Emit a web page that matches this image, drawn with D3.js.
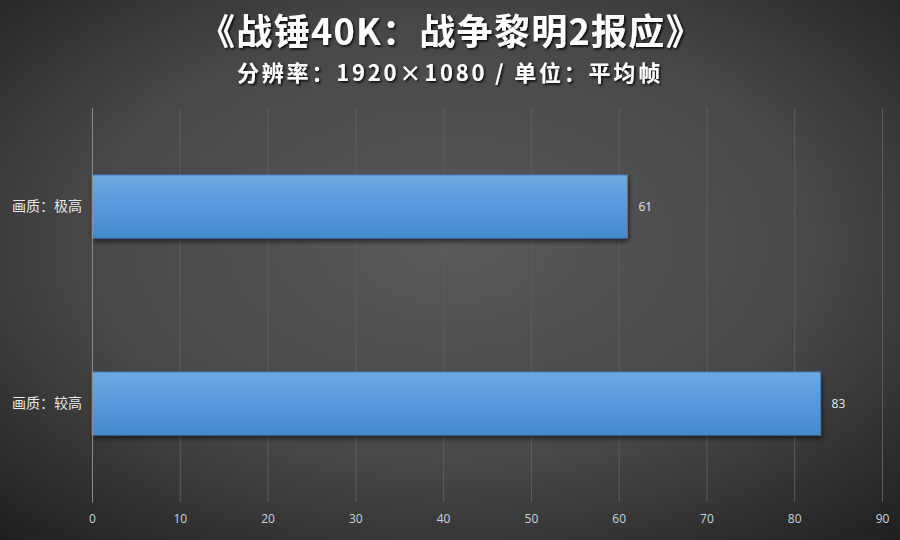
<!DOCTYPE html>
<html>
<head>
<meta charset="utf-8">
<script src="https://cdn.jsdelivr.net/npm/d3@7"></script>
<style>
  html, body { margin: 0; padding: 0; background: #333; }
  svg { display: block; }
</style>
</head>
<body>
<div id="chart"></div>
<script>
// Chart values
var categories = ['画质：极高', '画质：较高'];
var fps = [61, 83];
var xTicks = [0, 10, 20, 30, 40, 50, 60, 70, 80, 90];
var title = '《战锤40K：战争黎明2报应》';
var subtitle = '分辨率：1920×1080 / 单位：平均帧';

var W = 900, H = 540;
var margin = {top: 108, right: 18, bottom: 38, left: 92};
var width = W - margin.left - margin.right,
    height = H - margin.top - margin.bottom;

var svg = d3.select('#chart')
  .append('svg')
  .attr('width', W)
  .attr('height', H);

var defs = svg.append('defs');

// background radial gradient
var bg = defs.append('radialGradient')
  .attr('id', 'bg')
  .attr('cx', '50%').attr('cy', '45%').attr('r', '75%');
bg.append('stop').attr('offset', '0%').attr('stop-color', '#595959');
bg.append('stop').attr('offset', '55%').attr('stop-color', '#474747');
bg.append('stop').attr('offset', '100%').attr('stop-color', '#1e1e1e');

// bar gradient
var barGrad = defs.append('linearGradient')
  .attr('id', 'barGrad')
  .attr('x1', 0).attr('y1', 0).attr('x2', 0).attr('y2', 1);
barGrad.append('stop').attr('offset', '0%').attr('stop-color', '#6ea8e0');
barGrad.append('stop').attr('offset', '50%').attr('stop-color', '#5799dc');
barGrad.append('stop').attr('offset', '100%').attr('stop-color', '#468ace');

var shadow = defs.append('filter')
  .attr('id', 'shadow')
  .attr('x', '-5%').attr('y', '-20%').attr('width', '110%').attr('height', '150%');
shadow.append('feDropShadow')
  .attr('dx', 1).attr('dy', 3).attr('stdDeviation', 2.5)
  .attr('flood-color', '#000').attr('flood-opacity', 0.55);

var textShadow = defs.append('filter').attr('id', 'tshadow');
textShadow.append('feDropShadow')
  .attr('dx', 1.5).attr('dy', 1.5).attr('stdDeviation', 0.8)
  .attr('flood-color', '#000').attr('flood-opacity', 0.9);

svg.append('rect')
  .attr('width', W).attr('height', H)
  .attr('fill', 'url(#bg)');

// Titles
svg.append('text')
  .attr('x', W / 2 + 1).attr('y', 45)
  .attr('text-anchor', 'middle')
  .attr('font-family', '"Noto Sans CJK SC", sans-serif')
  .attr('font-weight', 'bold')
  .attr('font-size', 36)
  .attr('letter-spacing', 1.3)
  .attr('fill', '#fff')
  .attr('filter', 'url(#tshadow)')
  .text(title);

svg.append('text')
  .attr('x', W / 2).attr('y', 81)
  .attr('text-anchor', 'middle')
  .attr('font-family', '"Noto Sans CJK SC", sans-serif')
  .attr('font-weight', 'bold')
  .attr('font-size', 22)
  .attr('letter-spacing', 2.8)
  .attr('fill', '#fff')
  .attr('filter', 'url(#tshadow)')
  .text(subtitle);

var g = svg.append('g')
  .attr('transform', 'translate(' + margin.left + ',' + margin.top + ')');

// Scales
var x = d3.scaleLinear()
  .domain([0, 90])
  .range([0, 790]);

var y = d3.scaleBand()
  .domain(categories)
  .range([0, height])
  .paddingInner(0.68)
  .paddingOuter(0.34);

// Gridlines
var x_axis = d3.axisBottom(x)
  .tickValues(xTicks)
  .tickSizeInner(-height)
  .tickSizeOuter(0)
  .tickPadding(12);

var xg = g.append('g')
  .attr('transform', 'translate(0,' + height + ')')
  .call(x_axis);
xg.select('.domain').remove();
xg.selectAll('.tick line')
  .attr('stroke', '#5e5e5e')
  .attr('stroke-width', 1);
xg.selectAll('.tick text')
  .attr('fill', '#c5d3e3')
  .attr('font-family', '"Open Sans", "Noto Sans", sans-serif')
  .attr('font-size', 12);
xg.select('.tick line').attr('stroke', '#8a8a8a');

// Bars
var data = categories.map(function(c, i) { return {cat: c, v: fps[i]}; });

g.selectAll('.bar')
  .data(data)
  .enter().append('rect')
  .attr('class', 'bar')
  .attr('x', 0)
  .attr('y', function(d) { return y(d.cat); })
  .attr('width', function(d) { return x(d.v); })
  .attr('height', y.bandwidth())
  .attr('fill', 'url(#barGrad)')
  .attr('stroke', '#3f7fc0')
  .attr('stroke-width', 1)
  .attr('filter', 'url(#shadow)');

// Value labels
g.selectAll('.val')
  .data(data)
  .enter().append('text')
  .attr('x', function(d) { return x(d.v) + 11; })
  .attr('y', function(d) { return y(d.cat) + y.bandwidth() / 2; })
  .attr('dy', '0.35em')
  .attr('fill', '#e6e6e6')
  .attr('font-family', '"Open Sans", "Noto Sans", sans-serif')
  .attr('font-size', 12)
  .text(function(d) { return d.v; });

// Category labels
var y_axis = d3.axisLeft(y).tickSize(0).tickPadding(10);
var yg = g.append('g').call(y_axis);
yg.select('.domain')
  .attr('stroke', '#8a8a8a');
yg.selectAll('.tick text')
  .attr('fill', '#e8e8e8')
  .attr('font-family', '"Noto Sans CJK SC", sans-serif')
  .attr('font-size', 14);
</script>
</body>
</html>
